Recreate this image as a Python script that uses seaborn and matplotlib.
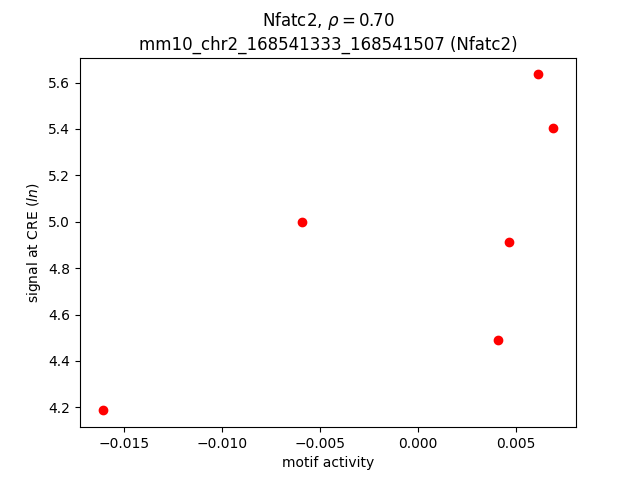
import numpy as np
import pandas as pd
import seaborn as sns
from matplotlib import pyplot as plt

# motif activity vs signal at CRE
motif_activity = [-0.01612, -0.00592, 0.00408, 0.00465, 0.00617, 0.00694]
signal = [4.187, 5.001, 4.492, 4.911, 5.635, 5.406]

df = pd.DataFrame({'motif activity': motif_activity, 'signal': signal})

fig, ax = plt.subplots(figsize=(6.4, 4.8), dpi=100)
sns.scatterplot(data=df, x='motif activity', y='signal', color='red',
                s=36, edgecolor='red', linewidth=1, ax=ax)
ax.set_xlabel('motif activity')
ax.set_ylabel('signal at CRE ($ln$)')
ax.set_title('Nfatc2, $\\rho=0.70$\nmm10_chr2_168541333_168541507 (Nfatc2)')
plt.savefig('out.png')
